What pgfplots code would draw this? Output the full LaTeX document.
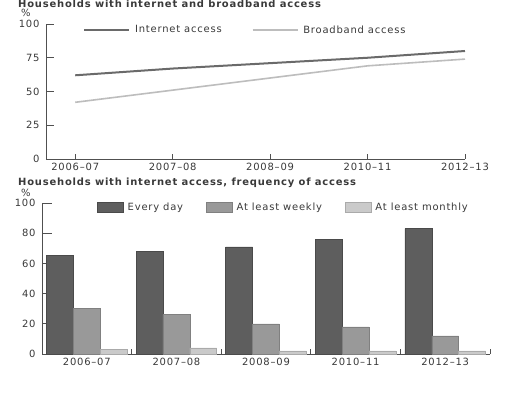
\documentclass[border=0pt]{standalone}
\usepackage{pgfplots}
\pgfplotsset{compat=1.18}
\usepackage{fontspec}
\setmainfont{DejaVu Sans}[LetterSpace=8]
\definecolor{txt}{HTML}{3A3A3A}
\definecolor{axc}{HTML}{505050}
\definecolor{inet}{HTML}{6A6A6A}
\definecolor{bband}{HTML}{BDBDBD}
\definecolor{c1}{HTML}{5E5E5E}
\definecolor{c1d}{HTML}{4A4A4A}
\definecolor{c2}{HTML}{999999}
\definecolor{c2d}{HTML}{808080}
\definecolor{c3}{HTML}{CACACA}
\definecolor{c3d}{HTML}{AAAAAA}
\begin{document}
\begin{tikzpicture}
\useasboundingbox (0bp,0bp) rectangle (512bp,401bp);
\fill[white] (0bp,0bp) rectangle (512bp,401bp);
\node[anchor=base west, font=\fontsize{10}{12}\selectfont\bfseries, text=txt, inner sep=0pt] at (18bp,393bp) {Households with internet and broadband access};
\node[anchor=base west, font=\fontsize{10}{12}\selectfont, text=txt, inner sep=0pt] at (21bp,384bp) {\%};
\node[anchor=base west, font=\fontsize{10}{12}\selectfont\bfseries, text=txt, inner sep=0pt] at (18bp,215bp) {Households with internet access, frequency of access};
\node[anchor=base west, font=\fontsize{10}{12}\selectfont, text=txt, inner sep=0pt] at (21bp,204bp) {\%};
\begin{axis}[
  at={(46bp,242bp)}, anchor=south west, scale only axis,
  width=419bp, height=135bp,
  xmin=-0.3, xmax=4, ymin=0, ymax=100,
  clip=false,
  axis x line*=bottom, axis y line*=left,
  axis line style={draw=axc, line width=0.9bp},
  xtick={0,...,4},
  xticklabels={2006–07,2007–08,2008–09,2010–11,2012–13},
  ytick={0,25,50,75,100},
  tick align=inside, major tick length=8bp,
  tick style={draw=axc, line width=0.9bp},
  xtick style={/pgfplots/major tick length=5bp},
  ticklabel style={text=txt, font=\fontsize{10}{12}\selectfont},
  xticklabel style={yshift=-1bp},
  yticklabel style={xshift=-3bp},
  /pgf/number format/assume math mode=true,
  legend style={at={(0.088,0.955)}, anchor=west, draw=none, fill=none,
    inner sep=0pt, font=\fontsize{10}{12}\selectfont,
    nodes={inner sep=0pt, text=txt},
    /tikz/every odd column/.append style={column sep=5bp},
    /tikz/every even column/.append style={column sep=30bp}},
  legend columns=2,
  legend image code/.code={\draw[#1] (0bp,0bp) -- (45bp,0bp);},
]
\addplot[draw=inet, line width=2bp] coordinates {(0,62) (1,67) (2,71) (3,75) (4,80)};
\addlegendentry{Internet access}
\addplot[draw=bband, line width=1.6bp] coordinates {(0,42) (1,51) (2,60) (3,69) (4,74)};
\addlegendentry{Broadband access}
\end{axis}
\begin{axis}[
  at={(42bp,47bp)}, anchor=south west, scale only axis,
  width=448bp, height=151bp,
  xmin=-0.5, xmax=4.5, ymin=0, ymax=100,
  clip=false,
  ybar, bar width=0.3,
  axis x line*=bottom, axis y line*=left,
  axis line style={draw=axc, line width=0.9bp},
  xtick={0,...,4},
  xticklabels={2006–07,2007–08,2008–09,2010–11,2012–13},
  ytick={0,20,40,60,80,100},
  tick align=inside, major tick length=10bp,
  tick style={draw=axc, line width=0.9bp},
  xtick style={draw=none},
  extra x ticks={0.5,1.5,2.5,3.5,4.5},
  extra x tick labels={},
  extra x tick style={xtick style={draw=axc, line width=0.9bp, /pgfplots/major tick length=5bp}},
  ticklabel style={text=txt, font=\fontsize{10}{12}\selectfont},
  xticklabel style={yshift=-1bp},
  yticklabel style={xshift=-3bp},
  /pgf/number format/assume math mode=true,
  legend style={at={(0.1228,0.970)}, anchor=west, draw=none, fill=none,
    inner sep=0pt, font=\fontsize{10}{12}\selectfont,
    nodes={inner sep=0pt, text=txt},
    /tikz/every odd column/.append style={column sep=4bp},
    /tikz/every even column/.append style={column sep=23bp}},
  legend columns=3,
  legend image code/.code={\path[#1] (0bp,-5bp) rectangle (26bp,5bp);},
]
\addplot[fill=c1, draw=c1d, line width=0.5bp, bar shift=-0.3] coordinates {(0,65.5) (1,68) (2,71) (3,76) (4,83)};
\addlegendentry{Every day}
\addplot[fill=c2, draw=c2d, line width=0.5bp, bar shift=0] coordinates {(0,30) (1,26) (2,20) (3,18) (4,12)};
\addlegendentry{At least weekly}
\addplot[fill=c3, draw=c3d, line width=0.5bp, bar shift=0.3] coordinates {(0,3) (1,4) (2,2) (3,2) (4,2)};
\addlegendentry{At least monthly}
\end{axis}
\end{tikzpicture}
\end{document}
